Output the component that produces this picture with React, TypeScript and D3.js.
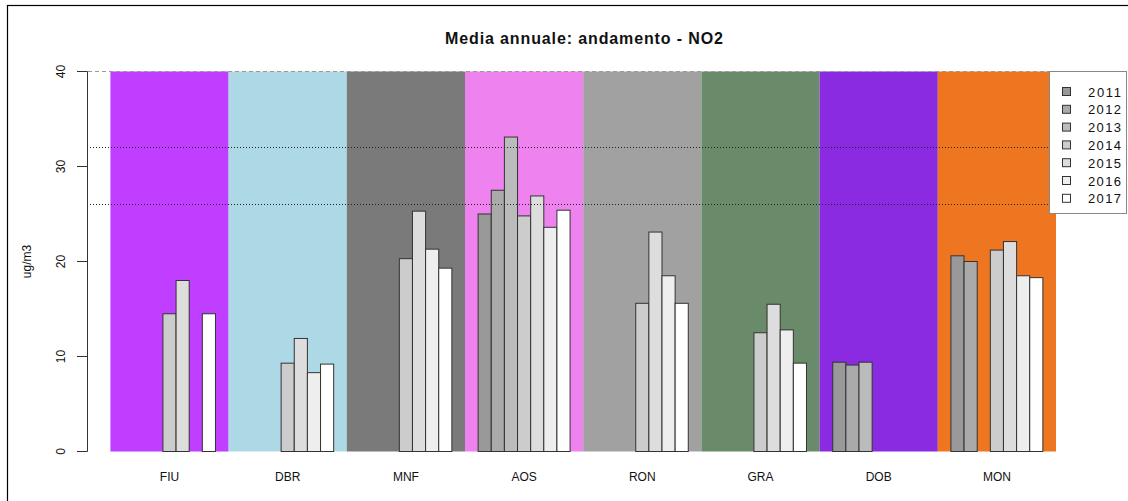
import React from "react";
import * as d3 from "d3";

const stations = ["FIU", "DBR", "MNF", "AOS", "RON", "GRA", "DOB", "MON"];
const stationColors = ["#BF3EFF", "#ADD8E6", "#7A7A7A", "#EE82EE", "#A1A1A1", "#698B69", "#8A2BE2", "#EE7621"];
const years = ["2011", "2012", "2013", "2014", "2015", "2016", "2017"];
const yearColors = ["#999999", "#AAAAAA", "#BBBBBB", "#CCCCCC", "#DDDDDD", "#EEEEEE", "#FFFFFF"];

// values per station, per year (null = missing)
const FIU = [null, null, null, 14.5, 18.0, null, 14.5];
const DBR = [null, null, null, 9.3, 11.9, 8.3, 9.2];
const MNF = [null, null, null, 20.3, 25.3, 21.3, 19.3];
const AOS = [25.0, 27.5, 33.1, 24.8, 26.9, 23.6, 25.4];
const RON = [null, null, null, 15.6, 23.1, 18.5, 15.6];
const GRA = [null, null, null, 12.5, 15.5, 12.8, 9.3];
const DOB = [9.4, 9.1, 9.4, null, null, null, null];
const MON = [20.6, 20.0, null, 21.2, 22.1, 18.5, 18.3];
const values = [FIU, DBR, MNF, AOS, RON, GRA, DOB, MON];

const yTicks = [0, 10, 20, 30, 40];
const refDashed = [40];
const refDotted = [32, 26];

export default function App() {
  const W = 1128, H = 501;
  const y = d3.scaleLinear().domain([0, 40]).range([451.5, 71.5]);
  const xg = d3.scaleBand<string>().domain(stations).range([110.4, 1056]).padding(0);
  const gw = xg.bandwidth();
  const xb = d3.scaleBand<string>().domain(years).range([gw / 9, (gw * 8) / 9]).padding(0);
  const font = "'Liberation Sans', Arial, sans-serif";
  return (
    <svg width={W} height={H} style={{ position: "absolute", left: 0, top: 0, background: "#fff" }} fontFamily={font}>
      <rect x={7.5} y={5.5} width={1140} height={520} fill="white" stroke="#000" strokeWidth={1.2} />
      {stations.map((s, i) => (
        <rect key={s} x={xg(s)} y={y(40)} width={gw} height={y(0) - y(40)} fill={stationColors[i]} />
      ))}
      {stations.map((s, i) =>
        values[i].map((v, j) =>
          v == null ? null : (
            <rect
              key={s + j}
              x={(xg(s) as number) + (xb(years[j]) as number)}
              y={y(v)}
              width={xb.bandwidth()}
              height={y(0) - y(v)}
              fill={yearColors[j]}
              stroke="#333"
              strokeWidth={1}
            />
          )
        )
      )}
      {refDashed.map((v) => (
        <line key={"d" + v} x1={88} x2={1050} y1={y(v)} y2={y(v)} stroke="#999" strokeDasharray="4,3" strokeWidth={1} />
      ))}
      {refDotted.map((v) => (
        <line key={"o" + v} x1={90} x2={1050} y1={y(v)} y2={y(v)} stroke="#222" strokeDasharray="1,2" strokeWidth={1} />
      ))}
      {/* y axis */}
      <line x1={87.5} x2={87.5} y1={y(0)} y2={y(40)} stroke="#333" strokeWidth={1} />
      {yTicks.map((t) => (
        <g key={t}>
          <line x1={77} x2={87.5} y1={y(t)} y2={y(t)} stroke="#333" strokeWidth={1} />
          <text
            transform={`translate(65,${y(t)}) rotate(-90)`}
            textAnchor="middle"
            fontSize={12}
            fill="#111"
          >
            {t}
          </text>
        </g>
      ))}
      <text transform={`translate(31,${(y(0) + y(40)) / 2}) rotate(-90)`} textAnchor="middle" fontSize={12} fill="#111">
        ug/m3
      </text>
      {stations.map((s) => (
        <text key={"l" + s} x={(xg(s) as number) + gw / 2} y={481} textAnchor="middle" fontSize={12} fill="#111">
          {s}
        </text>
      ))}
      <text x={584} y={44} textAnchor="middle" fontSize={16} fontWeight="bold" fill="#111" textLength={278} lengthAdjust="spacing">
        Media annuale: andamento - NO2
      </text>
      {/* legend */}
      <rect x={1049.5} y={71.5} width={77} height={142} fill="white" stroke="#888" strokeWidth={1} />
      {years.map((yr, j) => (
        <g key={"lg" + yr}>
          <rect x={1062.5} y={87.5 + j * 17.8} width={8} height={8} fill={yearColors[j]} stroke="#333" strokeWidth={1} />
          <text x={1088} y={96.5 + j * 17.8} fontSize={13} fill="#111" textLength={33} lengthAdjust="spacing">
            {yr}
          </text>
        </g>
      ))}
    </svg>
  );
}
